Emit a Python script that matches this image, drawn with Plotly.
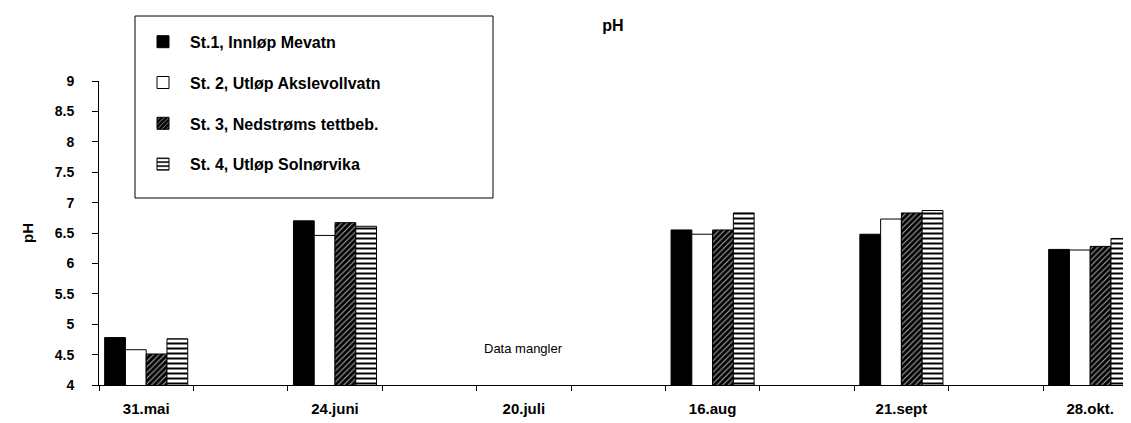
import plotly.graph_objects as go

dates = ["31.mai", "24.juni", "20.juli", "16.aug", "21.sept", "28.okt."]
stations = ["St.1, Innløp Mevatn", "St. 2, Utløp Akslevollvatn",
            "St. 3, Nedstrøms tettbeb.", "St. 4, Utløp Solnørvika"]
st1 = [4.78, 6.70, None, 6.55, 6.48, 6.23]
st2 = [4.58, 6.46, None, 6.48, 6.73, 6.22]
st3 = [4.51, 6.67, None, 6.55, 6.83, 6.28]
st4 = [4.76, 6.61, None, 6.83, 6.87, 6.41]
missing_label = "Data mangler"
missing_date = "20.juli"
y_title = "pH"
y_ticks = [4, 4.5, 5, 5.5, 6, 6.5, 7, 7.5, 8, 8.5, 9]

# each date occupies every second slot of the category axis
xpos = [2 * i for i in range(len(dates))]
n_slots = 2 * len(dates) - 1
slot_edges = [k - 0.5 for k in range(n_slots + 1)]

W, H = 1131, 423
OFF = 8            # browser page margin that shifts the figure right/down
SLOT_PX = 94.4
L, T, B = 99 - OFF, 81 - OFF, H - (385 - OFF)
PW = W - L
PH = H - T - B
x_max = -0.5 + PW / SLOT_PX


def px_to_paper_x(px):
    return (px - OFF - L) / PW


def px_to_paper_y(py):
    return 1 + (T - (py - OFF)) / PH


FONT = "Liberation Sans, Arial, sans-serif"
styles = [
    dict(color="black", line=dict(color="black", width=1)),
    dict(color="white", line=dict(color="black", width=1)),
    dict(color="black", line=dict(color="black", width=1),
         pattern=dict(shape="/", fgcolor="#b0b0b0", bgcolor="black",
                      size=4, solidity=0.25, fillmode="replace")),
    dict(color="white", line=dict(color="black", width=1),
         pattern=dict(shape="-", fgcolor="black", bgcolor="white",
                      size=5, solidity=0.4, fillmode="replace")),
]

fig = go.Figure()
for i, (name, vals) in enumerate(zip(stations, [st1, st2, st3, st4])):
    fig.add_trace(go.Bar(x=xpos, y=vals, name=name, marker=styles[i],
                         legendgroup=f"g{i}"))

fig.add_annotation(x=xpos[dates.index(missing_date)], y=4.6, text=missing_label,
                   showarrow=False, font=dict(family=FONT, size=13, color="black"))
# y-axis title
fig.add_annotation(xref="paper", yref="paper", x=px_to_paper_x(27), y=0.5,
                   text=f"<b>{y_title}</b>", textangle=-90, showarrow=False,
                   xanchor="center", yanchor="middle",
                   font=dict(family=FONT, size=15, color="black"))
# legend frame
fig.add_shape(type="rect", xref="paper", yref="paper",
              x0=px_to_paper_x(135), x1=px_to_paper_x(493),
              y0=px_to_paper_y(198), y1=px_to_paper_y(16),
              line=dict(color="black", width=1), fillcolor="white", layer="above")

fig.update_layout(
    width=W, height=H,
    margin=dict(l=L, r=0, t=T, b=B, autoexpand=False),
    paper_bgcolor="white", plot_bgcolor="white",
    barmode="group", bargap=0.56, bargroupgap=0,
    font=dict(family=FONT, color="black"),
    title=dict(text="<b>pH</b>", x=(613 - OFF) / W, xanchor="center", xref="container",
               y=1 - (25 - OFF) / H, yanchor="middle", yref="container",
               font=dict(family=FONT, size=16, color="black")),
    showlegend=True,
    legend=dict(x=(136 - OFF) / W, y=1 - (17 - OFF) / H, xref="container", yref="container",
                xanchor="left", yanchor="top",
                borderwidth=0, bgcolor="rgba(0,0,0,0)",
                font=dict(family=FONT, size=16, color="black", weight="bold"),
                tracegroupgap=17, itemclick=False, itemwidth=44,
                title=dict(text=" ", font=dict(size=6))),
    xaxis=dict(range=[-0.5, x_max], tickmode="array", tickvals=xpos, ticktext=dates,
               ticks="", showline=True, linecolor="black", linewidth=1,
               showgrid=False, zeroline=False, ticklabelstandoff=10, automargin=False,
               tickfont=dict(family=FONT, size=15, color="black", weight="bold"),
               minor=dict(tickmode="array", tickvals=slot_edges, ticks="outside",
                          ticklen=5, tickcolor="black", tickwidth=1, showgrid=False)),
    yaxis=dict(range=[4, 9], tickmode="array", tickvals=y_ticks, ticks="outside",
               ticklen=6, tickcolor="black", showline=True, linecolor="black",
               linewidth=1, showgrid=False, zeroline=False, ticklabelstandoff=15,
               automargin=False,
               tickfont=dict(family=FONT, size=14, color="black", weight="bold")),
)

fig.write_html("out.html")
